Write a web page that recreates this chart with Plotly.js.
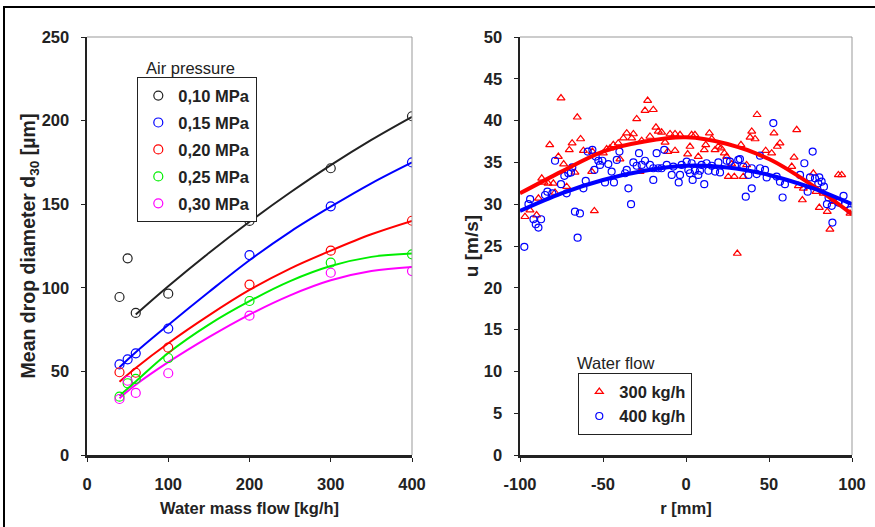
<!DOCTYPE html>
<html><head><meta charset="utf-8">
<script src="https://cdn.plot.ly/plotly-3.0.1.min.js"></script>
<style>html,body{margin:0;padding:0;background:#fff}#chart{width:875px;height:527px}</style>
</head><body><div id="chart"></div>
<script>
// ---- Left panel: mean drop diameter vs water mass flow ----
const flowX = [40, 50, 60, 100, 200, 300, 400];
const d30_010 = [94.5, 117.6, 85, 96.5, 140, 171.5, 202.6];
const d30_015 = [54.2, 57.2, 60.8, 75.6, 119.6, 148.7, 175];
const d30_020 = [49.5, null, 49.2, 64.2, 101.9, 122.2, 140.1];
const d30_025 = [34.9, 42.9, 45.5, 58, 92.1, 115, 120];
const d30_030 = [33.5, 44.4, 37.1, 48.9, 83.3, 109, 110];

// trend curves
const fitX = [40, 60, 100, 150, 200, 250, 300, 350, 400];
const fit_010 = [null, 84, 100.9, 120.8, 139.5, 157, 173.4, 188.5, 202.3];
const fit_015 = [52.5, 61.5, 77.8, 97.5, 116.5, 133.5, 148.5, 162.5, 175];
const fit_020 = [43.8, 52, 66.8, 83.5, 98.7, 111.5, 122.2, 132, 140];
const fit_025 = [35.5, 44, 61, 78, 92, 104, 113, 118.5, 120.5];
const fit_030 = [34, 42, 55.5, 70.5, 84, 95.5, 104.5, 110, 112.5];

const pressureLabels = ['0,10 MPa', '0,15 MPa', '0,20 MPa', '0,25 MPa', '0,30 MPa'];

// ---- Right panel: velocity profile ----
const r300 = [-75.3,-65.5,-63.5,-82.1,-68.6,-70.3,-76.9,-73.7,-61.8,-56.8,-66.9,-86.9,-85.5,-83.1,-79.9,-71.9,-78.9,-88.9,-94.0,-90.0,-97.0,-55.2,-56.4,
  -23.1,-24.7,-19.7,-29.7,-18.1,-14.7,-16.7,-35.7,-31.7,-9.6,-6.6,-3.6,-37.7,-32.7,-21.7,-26.7,-40.8,-43.8,-45.8,-47.8,-49.8,-12.6,-6.6,-11.0,-39.8,-27.7,
  42.8,39.6,38.6,41.6,14.1,3.4,5.4,15.5,2.4,11.9,11.0,19.5,17.5,21.1,33.1,1.0,7.4,23.1,24.5,48.0,27.5,25.5,29.1,34.5,36.5,30.9,
  66.7,53.0,56.6,55.0,51.6,65.1,63.7,76.7,91.8,93.8,67.7,70.7,78.3,82.7,70.1,80.3,85.1,98.8,86.7,89.1];
const u300 = [42.7,40.4,37.8,37.1,37.3,36.5,35.7,34.8,36.4,33.9,33.8,33.1,32.6,32.5,32.5,32.1,31.4,30.7,29.3,28.7,28.5,29.2,36.3,
  42.4,41.2,41.3,40.2,39.2,38.6,38.7,38.5,38.4,38.4,38.4,38.3,37.9,37.9,38.1,37.6,37.3,37.1,36.7,36.6,36.1,37.4,36.4,36.3,35.4,33.9,
  40.7,38.7,38.0,37.8,38.5,38.3,38.3,37.8,36.9,37.1,36.5,36.9,36.5,36.7,37.1,36.0,35.7,36.1,35.7,36.4,34.8,33.3,33.3,33.3,34.7,24.1,
  38.9,38.5,37.3,36.9,36.1,35.6,34.5,33.7,33.5,33.5,32.2,31.9,31.5,31.3,30.5,29.6,29.1,28.9,27.0,30.3];
const r400 = [-78.9,-70.9,-73.3,-68.5,-69.3,-59.2,-56.4,-54.4,-52.8,-50.4,-51.8,-55.2,-60.4,-61.8,-71.9,-75.3,-80.5,-83.5,-84.9,-93.9,-94.9,-66.9,-63.9,-65.3,-91.9,-87.3,-90.5,-88.9,-97.4,-48.8,
  -40.1,-41.7,-46.8,-28.3,-17.7,-13.1,-31.7,-29.7,-24.7,-26.7,-21.7,-11.6,-7.6,-2.6,-19.7,-16.7,-14.7,-44.8,-36.7,-35.7,-8.6,-3.6,-43.4,-19.7,-4.4,-34.7,-33.1,
  52.6,44.6,0.4,3.4,9.4,12.4,15.5,19.5,24.5,26.5,31.5,32.5,29.5,34.5,39.6,44.6,47.6,1.4,5.4,8.4,2.4,7.4,13.5,17.5,20.5,37.6,42.6,48.6,4.0,11.0,39.6,36.0,
  76.3,71.3,54.6,56.6,59.6,68.7,74.7,77.7,80.3,81.7,79.7,83.1,73.3,58.2,85.9,94.9,84.9,87.8,91.8,95.8,98.8,88.2];
const u400 = [35.2,33.7,33.4,34.4,33.8,36.3,36.5,35.7,35.2,35.2,34.7,34.1,32.8,31.9,31.3,32.4,31.3,31.5,31.1,30.6,30.0,29.1,28.9,26.0,28.2,28.2,27.6,27.2,24.9,32.6,
  36.3,35.3,34.8,36.1,36.1,36.5,35.0,34.6,35.2,34.7,34.7,34.7,34.5,34.7,34.3,34.3,34.3,33.9,33.7,34.1,33.5,33.5,32.6,32.9,32.6,31.9,30.0,
  39.7,35.8,35.1,34.9,34.7,34.9,34.6,35.0,35.2,35.1,35.3,35.4,34.6,34.5,34.3,34.3,34.1,34.1,34.0,34.0,33.7,33.5,34.0,33.9,33.8,33.5,33.6,33.2,32.9,32.4,31.9,30.9,
  36.3,34.9,33.3,32.7,32.4,33.5,33.2,33.1,33.2,32.7,32.5,32.1,31.5,30.8,30.8,31.0,30.0,29.8,30.2,30.0,29.3,27.8];

const profR = [-100, -75, -50, -25, 0, 25, 50, 75, 100];
const prof300 = [31.3, 33.9, 36.3, 37.5, 38.0, 37.2, 35.4, 32.4, 28.8];
const prof400 = [29.2, 31.3, 32.9, 34.0, 34.6, 34.4, 33.5, 32.0, 30.0];
const flowLabels = ['300 kg/h', '400 kg/h'];
const rTickVals = [-100, -50, 0, 50, 100];
const rTickText = ['-100', '-50', '0', '50', '100'];

const FONT = 'Liberation Sans, Arial, sans-serif';
const TXT = '#222222';
const cols = ['#222222', '#0000ff', '#ff0000', '#00ee00', '#ff00ff'];
const ptsL = [d30_010, d30_015, d30_020, d30_025, d30_030];
const fitsL = [fit_010, fit_015, fit_020, fit_025, fit_030];

const traces = [];
fitsL.forEach((f, i) => traces.push({
  x: fitX, y: f, mode: 'lines', line: {color: cols[i], width: 2, shape: 'spline'},
  showlegend: false, hoverinfo: 'skip', xaxis: 'x', yaxis: 'y', connectgaps: false
}));
ptsL.forEach((p, i) => traces.push({
  x: flowX, y: p, mode: 'markers', name: pressureLabels[i], legendgroup: 'g' + i,
  marker: {symbol: 'circle-open', size: 9, color: cols[i], line: {width: 1.2, color: cols[i]}},
  xaxis: 'x', yaxis: 'y', legend: 'legend'
}));
traces.push({x: r300, y: u300, mode: 'markers', name: flowLabels[0], legendgroup: 'w0',
  marker: {symbol: 'triangle-up-open', size: 7, color: '#ff0000', line: {width: 1.2, color: '#ff0000'}},
  xaxis: 'x2', yaxis: 'y2', legend: 'legend2'});
traces.push({x: r400, y: u400, mode: 'markers', name: flowLabels[1], legendgroup: 'w1',
  marker: {symbol: 'circle-open', size: 7, color: '#0000ff', line: {width: 1.2, color: '#0000ff'}},
  xaxis: 'x2', yaxis: 'y2', legend: 'legend2'});
traces.push({x: profR, y: prof300, mode: 'lines', line: {color: '#ff0000', width: 4, shape: 'spline'},
  showlegend: false, hoverinfo: 'skip', xaxis: 'x2', yaxis: 'y2'});
traces.push({x: profR, y: prof400, mode: 'lines', line: {color: '#0000ff', width: 4, shape: 'spline'},
  showlegend: false, hoverinfo: 'skip', xaxis: 'x2', yaxis: 'y2'});

const W = 875, H = 527;
const tickF = {family: FONT, size: 16.5, color: TXT, weight: 'bold'};
function xax(dom, range, dtick, title) {
  return {domain: dom, range: range, dtick: dtick, tick0: range[0], showgrid: false, zeroline: false,
    showline: true, linecolor: '#222', linewidth: 2.5, ticks: 'outside', ticklen: 4, tickcolor: '#222',
    tickfont: tickF, ticklabelstandoff: 9, fixedrange: true,
    title: {text: title, font: {family: FONT, size: 16.5, color: TXT, weight: 'bold'}, standoff: 10}};
}
function yax(dom, range, dtick, title, anchor, tsize, standoff) {
  return {domain: dom, range: range, dtick: dtick, tick0: 0, showgrid: false, zeroline: false, anchor: anchor,
    showline: true, linecolor: '#222', linewidth: 2.5, ticks: 'outside', ticklen: 4, tickcolor: '#222',
    tickfont: tickF, ticklabelstandoff: 8, fixedrange: true,
    title: {text: title, font: {family: FONT, size: tsize, color: TXT, weight: 'bold'}, standoff: standoff}};
}
const yDom = [(H - 455) / H, (H - 37) / H];
const xax2 = xax([520 / W, 852 / W], [-100, 100], 50, 'r [mm]');
xax2.tickmode = 'array'; xax2.tickvals = rTickVals; xax2.ticktext = rTickText;
const layout = {
  width: W, height: H, margin: {l: 0, r: 0, t: 0, b: 0},
  paper_bgcolor: '#fff', plot_bgcolor: '#fff',
  xaxis: xax([87 / W, 412 / W], [0, 400], 100, 'Water mass flow [kg/h]'),
  yaxis: yax(yDom, [0, 250], 50, 'Mean drop diameter d<sub>30</sub> [µm]', 'x', 19.5, 0),
  xaxis2: xax2,
  yaxis2: yax(yDom, [0, 50], 5, 'u [m/s]', 'x2', 19, 0),
  legend: {x: 137 / W, y: 1 - 77 / H, xanchor: 'left', yanchor: 'top', bgcolor: '#fff',
    bordercolor: '#222', borderwidth: 1.3, tracegroupgap: 2.5, itemsizing: 'trace',
    font: {family: FONT, size: 16.5, color: TXT, weight: 'bold'}},
  legend2: {x: 578 / W, y: 1 - 373 / H, xanchor: 'left', yanchor: 'top', bgcolor: '#fff',
    bordercolor: '#222', borderwidth: 1.3, tracegroupgap: 0, itemsizing: 'trace',
    font: {family: FONT, size: 16.5, color: TXT, weight: 'bold'}},
  annotations: [
    {text: 'Air pressure', xref: 'paper', yref: 'paper', x: 190 / W, y: 1 - 68 / H, showarrow: false,
      xanchor: 'center', yanchor: 'middle', font: {family: FONT, size: 16.5, color: TXT}},
    {text: 'Water flow', xref: 'paper', yref: 'paper', x: 615 / W, y: 1 - 363 / H, showarrow: false,
      xanchor: 'center', yanchor: 'middle', font: {family: FONT, size: 16.5, color: TXT}}
  ],
  shapes: [
    {type: 'line', xref: 'x domain', yref: 'y domain', x0: 0, x1: 1, y0: 1, y1: 1, line: {color: '#999', width: 1}},
    {type: 'line', xref: 'x domain', yref: 'y domain', x0: 1, x1: 1, y0: 0, y1: 1, line: {color: '#999', width: 1}},
    {type: 'line', xref: 'x2 domain', yref: 'y2 domain', x0: 0, x1: 1, y0: 1, y1: 1, line: {color: '#999', width: 1}},
    {type: 'line', xref: 'x2 domain', yref: 'y2 domain', x0: 1, x1: 1, y0: 0, y1: 1, line: {color: '#999', width: 1}},
    {type: 'rect', xref: 'paper', yref: 'paper', x0: 4 / W, x1: 1.02, y0: -0.02, y1: 1 - 7 / H, line: {color: '#000', width: 2}}
  ]
};
Plotly.newPlot('chart', traces, layout, {displayModeBar: false, staticPlot: true});
</script></body></html>
